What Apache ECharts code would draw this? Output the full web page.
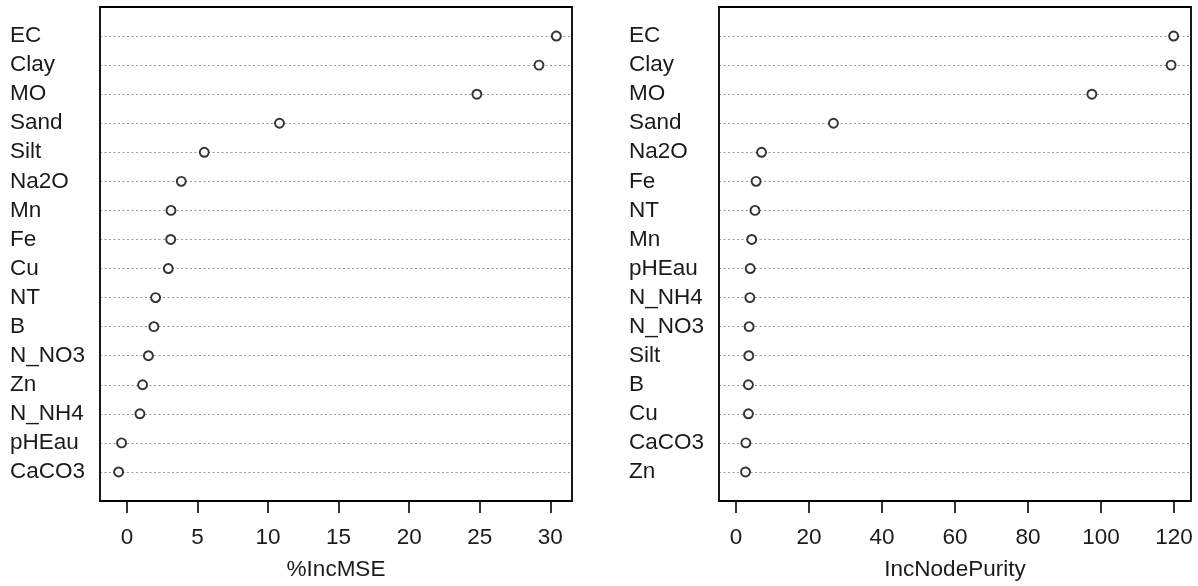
<!DOCTYPE html>
<html>
<head>
<meta charset="utf-8">
<script src="https://cdn.jsdelivr.net/npm/echarts@6/dist/echarts.min.js"></script>
<style>
html,body{margin:0;padding:0;background:#fff;}
#chart{width:1198px;height:586px;}
</style>
</head>
<body>
<div id="chart"></div>
<script>
// Left panel (%IncMSE), top to bottom
const mseCategories = ['EC','Clay','MO','Sand','Silt','Na2O','Mn','Fe','Cu','NT','B','N_NO3','Zn','N_NH4','pHEau','CaCO3'];
const mseValues     = [30.43, 29.2, 24.8, 10.81, 5.48, 3.85, 3.12, 3.1, 2.93, 2.03, 1.91, 1.52, 1.11, 0.92, -0.38, -0.59];
const mseTicks      = [0, 5, 10, 15, 20, 25, 30];

// Right panel (IncNodePurity), top to bottom
const purityCategories = ['EC','Clay','MO','Sand','Na2O','Fe','NT','Mn','pHEau','N_NH4','N_NO3','Silt','B','Cu','CaCO3','Zn'];
const purityValues     = [119.9, 119.2, 97.5, 26.7, 7.0, 5.5, 5.2, 4.3, 3.9, 3.8, 3.6, 3.5, 3.4, 3.4, 2.7, 2.6];
const purityTicks      = [0, 20, 40, 60, 80, 100, 120];

const FONT = '"Liberation Sans", Arial, sans-serif';
const TXT = '#1a1a1a';
const FS = 22.5;

function yCats(cats){ return [''].concat(cats.slice().reverse()).concat(['']); }

function yAxisFor(idx, cats){
  return {
    type: 'category', gridIndex: idx, data: yCats(cats), boundaryGap: false,
    axisLine: {show: false}, axisTick: {show: false},
    axisLabel: {interval: 0, align: 'left', margin: 90, fontSize: FS, fontFamily: FONT, color: TXT},
    splitLine: {show: true, interval: 0, lineStyle: {color: '#9a9a9a', width: 1, type: [2, 2.5]}}
  };
}
function xAxisFor(idx, min, max, ticks, name){
  return {
    type: 'value', gridIndex: idx, min: min, max: max,
    axisLine: {show: false},
    axisTick: {show: true, length: 12, customValues: ticks, lineStyle: {color: '#000', width: 1.6}},
    axisLabel: {customValues: ticks, margin: 25, fontSize: FS, fontFamily: FONT, color: TXT},
    splitLine: {show: false},
    name: name, nameLocation: 'middle', nameGap: 57,
    nameTextStyle: {fontSize: FS, fontFamily: FONT, color: TXT}
  };
}
function series(idx, cats, vals){
  return {
    type: 'scatter', xAxisIndex: idx, yAxisIndex: idx,
    data: vals.map((v, i) => [v, cats[i]]),
    symbol: 'circle', symbolSize: 9,
    itemStyle: {color: '#fff', borderColor: '#000', borderWidth: 1.9},
    z: 5
  };
}

const chart = echarts.init(document.getElementById('chart'), null, {renderer: 'canvas'});
chart.setOption({
  animation: false,
  backgroundColor: '#fff',
  grid: [
    {left: 100, top: 7, width: 472, height: 495, show: true, borderColor: '#000', borderWidth: 1.8, backgroundColor: 'transparent', z: 3},
    {left: 719, top: 7, width: 472, height: 495, show: true, borderColor: '#000', borderWidth: 1.8, backgroundColor: 'transparent', z: 3}
  ],
  xAxis: [
    xAxisFor(0, -1.91, 31.54, mseTicks, '%IncMSE'),
    xAxisFor(1, -4.66, 124.66, purityTicks, 'IncNodePurity')
  ],
  yAxis: [yAxisFor(0, mseCategories), yAxisFor(1, purityCategories)],
  series: [series(0, mseCategories, mseValues), series(1, purityCategories, purityValues)]
});
</script>
</body>
</html>
